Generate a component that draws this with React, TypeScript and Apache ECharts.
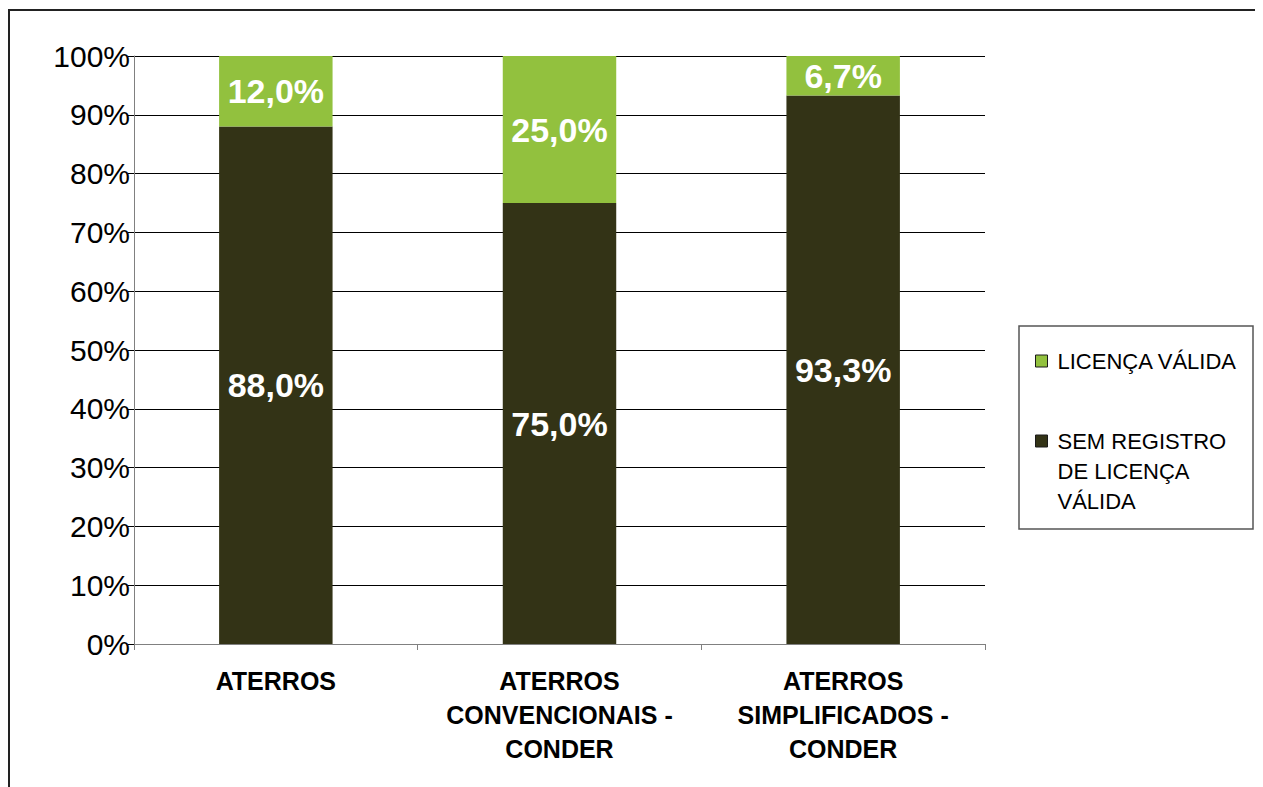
import React, { useEffect, useRef } from "react";
import * as echarts from "echarts";

const categories = [
  "ATERROS",
  "ATERROS\nCONVENCIONAIS -\nCONDER",
  "ATERROS\nSIMPLIFICADOS -\nCONDER",
];
const semRegistro = [88.0, 75.0, 93.3];
const licencaValida = [12.0, 25.0, 6.7];
const seriesNames = ["SEM REGISTRO DE LICENÇA VÁLIDA", "LICENÇA VÁLIDA"];
const legendLabels: Record<string, string> = {
  "LICENÇA VÁLIDA": "LICENÇA VÁLIDA",
  "SEM REGISTRO DE LICENÇA VÁLIDA": "\n\nSEM REGISTRO\nDE LICENÇA\nVÁLIDA",
};

const FONT = "'Liberation Sans', Arial, sans-serif";
const DARK = "#333316";
const GREEN = "#92C13E";

const fmt = (v: number) => v.toFixed(1).replace(".", ",") + "%";

export default function App() {
  const ref = useRef<HTMLDivElement>(null);
  useEffect(() => {
    document.documentElement.style.overflow = "hidden";
    document.body.style.overflow = "hidden";
    const chart = echarts.init(ref.current!, null, { renderer: "svg" });
    chart.setOption({
      animation: false,
      backgroundColor: "#ffffff",
      textStyle: { fontFamily: FONT },
      grid: { left: 126, right: 278, top: 48, bottom: 143, containLabel: false },
      graphic: [
        {
          type: "polyline",
          shape: { points: [[1, 900], [1, 2], [1400, 2]] },
          style: { fill: "none", stroke: "#222", lineWidth: 2 },
          silent: true,
          z: -10,
        },
        {
          type: "rect",
          shape: { x: 1011, y: 318, width: 234, height: 203 },
          style: { fill: "#fff", stroke: "#555", lineWidth: 1.5 },
          silent: true,
          z: -5,
        },
      ],
      legend: {
        orient: "vertical",
        left: 1027,
        top: 338,
        padding: 0,
        itemGap: -10,
        itemWidth: 12,
        itemHeight: 12,
        icon: "rect",
        selectedMode: false,
        itemStyle: { borderColor: "#1a1a1a", borderWidth: 1 },
        formatter: (name: string) => legendLabels[name] ?? name,
        textStyle: {
          fontFamily: FONT,
          fontSize: 22,
          lineHeight: 30,
          color: "#000",
          padding: [0, 0, 0, 5],
        },
        data: [seriesNames[1], seriesNames[0]],
      },
      xAxis: {
        type: "category",
        data: categories,
        boundaryGap: true,
        axisLine: { lineStyle: { color: "#808080", width: 1 } },
        axisTick: { show: true, length: 6, lineStyle: { color: "#808080" } },
        axisLabel: {
          interval: 0,
          margin: 20,
          fontFamily: FONT,
          fontSize: 25,
          fontWeight: "bold",
          lineHeight: 34,
          color: "#000",
        },
      },
      yAxis: {
        type: "value",
        min: 0,
        max: 100,
        interval: 10,
        axisLine: { show: true, lineStyle: { color: "#808080", width: 1 } },
        axisTick: { show: true, length: 6, lineStyle: { color: "#000" } },
        splitLine: { show: true, lineStyle: { color: "#000", width: 1 } },
        axisLabel: {
          formatter: "{value}%",
          margin: 4,
          fontFamily: FONT,
          fontSize: 30,
          color: "#000",
        },
      },
      series: [
        {
          name: seriesNames[0],
          type: "bar",
          stack: "total",
          barWidth: "40%",
          data: semRegistro,
          itemStyle: { color: DARK },
          label: {
            show: true,
            position: "inside",
            formatter: (p: any) => fmt(p.value),
            color: "#fff",
            fontFamily: FONT,
            fontSize: 34,
            fontWeight: "bold",
          },
        },
        {
          name: seriesNames[1],
          type: "bar",
          stack: "total",
          barWidth: "40%",
          data: licencaValida,
          itemStyle: { color: GREEN },
          label: {
            show: true,
            position: "inside",
            formatter: (p: any) => fmt(p.value),
            color: "#fff",
            fontFamily: FONT,
            fontSize: 34,
            fontWeight: "bold",
          },
        },
      ],
    });
    return () => chart.dispose();
  }, []);
  return <div ref={ref} style={{ width: 1255, height: 779 }} />;
}
